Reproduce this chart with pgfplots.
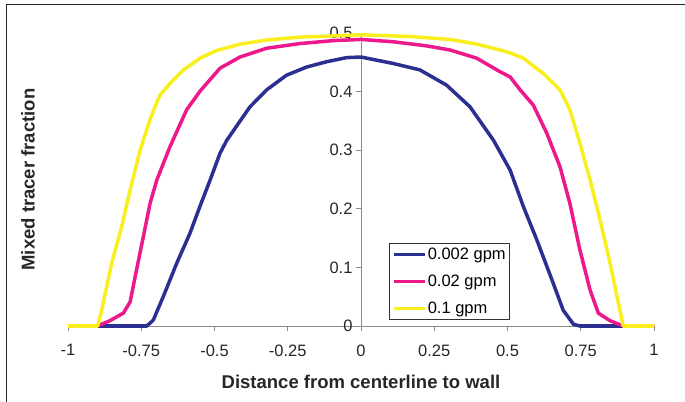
\documentclass[border=0pt]{standalone}
\usepackage{fontspec}
\setmainfont{Liberation Sans}
\usepackage{pgfplots}
\pgfplotsset{compat=1.18}
\definecolor{cblue}{RGB}{43,47,145}
\definecolor{cpink}{RGB}{236,24,140}
\definecolor{cyell}{RGB}{250,238,30}
\begin{document}
\begin{tikzpicture}
\path[use as bounding box] (0,0) rectangle (685bp,402bp);
\draw[line width=1bp, black!85] (6bp,0) -- (6bp,397bp) -- (686bp,397bp);
\begin{axis}[
  at={(68bp,76bp)}, anchor=south west,
  scale only axis, width=586bp, height=293bp,
  xmin=-1, xmax=1, ymin=0, ymax=0.5,
  enlargelimits=false, clip=false,
  axis lines=middle,
  axis line style={-, gray!90, line width=0.9bp},
  hide obscured x ticks=false, hide obscured y ticks=false,
  xtick={-1,-0.75,-0.5,-0.25,0,0.25,0.5,0.75,1},
  ytick={0,0.1,0.2,0.3,0.4,0.5},
  tick align=outside,
  major tick length=5bp,
  tick style={gray!90, line width=0.9bp},
  /pgf/number format/assume math mode=true,
  tick label style={font=\fontsize{16.5bp}{19bp}\selectfont, text=black!85},
  xticklabel style={yshift=-10bp},
  xlabel={Distance from centerline to wall},
  ylabel={Mixed tracer fraction},
  label style={font=\bfseries\fontsize{18.5bp}{22bp}\selectfont, text=black!85},
  xlabel style={at={(axis description cs:0.5,-0.1894)}, anchor=center},
  ylabel style={at={(axis description cs:-0.0683,0.5)}, anchor=center, rotate=90},
  legend style={at={(axis cs:0.0966,0.141)}, anchor=north west,
    draw=black!80, line width=0.9bp, inner xsep=2bp, inner ysep=2.5bp,
    row sep=10.5bp,
    font=\fontsize{16.5bp}{19bp}\selectfont,
    nodes={inner sep=1.5bp, text depth=0.2em}},
  legend cell align=left,
  legend image code/.code={\draw[#1, line width=3.5bp] (0bp,0bp) -- (31bp,0bp);},
]
\addplot[cblue, line width=3.5bp, line join=round] coordinates {
(-1,0) (-0.9,0) (-0.8,0) (-0.731,0) (-0.709,0.010) (-0.675,0.05) (-0.629,0.107)
(-0.584,0.158) (-0.549,0.205) (-0.515,0.249) (-0.481,0.295) (-0.458,0.317)
(-0.379,0.374) (-0.322,0.403) (-0.254,0.428) (-0.185,0.442) (-0.117,0.451)
(-0.049,0.458) (0,0.459) (0.110,0.448) (0.201,0.437) (0.292,0.411) (0.372,0.374)
(0.452,0.317) (0.509,0.266) (0.554,0.204) (0.600,0.147) (0.656,0.073)
(0.690,0.027) (0.725,0.003) (0.747,0) (0.8,0) (0.9,0) (1,0)
};
\addlegendentry{0.002 gpm}
\addplot[cpink, line width=3.5bp, line join=round] coordinates {
(-1,0) (-0.90,0) (-0.857,0.009) (-0.811,0.022) (-0.788,0.041) (-0.766,0.096)
(-0.743,0.152) (-0.72,0.209) (-0.697,0.249) (-0.652,0.306) (-0.595,0.369)
(-0.549,0.401) (-0.481,0.440) (-0.413,0.459) (-0.322,0.474) (-0.208,0.482)
(-0.094,0.487) (0,0.489) (0.11,0.485) (0.224,0.478) (0.304,0.471) (0.395,0.457)
(0.474,0.434) (0.509,0.425) (0.543,0.403) (0.588,0.377) (0.634,0.329)
(0.679,0.272) (0.713,0.209) (0.747,0.130) (0.782,0.061) (0.81,0.022)
(0.85,0.009) (0.895,0) (1,0)
};
\addlegendentry{0.02 gpm}
\addplot[cyell, line width=3.5bp, line join=round] coordinates {
(-1,0) (-0.899,0) (-0.885,0.027) (-0.851,0.107) (-0.817,0.169) (-0.788,0.232)
(-0.754,0.300) (-0.72,0.352) (-0.700,0.378) (-0.686,0.394) (-0.652,0.414) (-0.606,0.437)
(-0.549,0.457) (-0.493,0.470) (-0.413,0.481) (-0.322,0.488) (-0.208,0.493)
(-0.094,0.495) (0,0.497) (0.167,0.494) (0.304,0.489) (0.395,0.481) (0.474,0.471)
(0.509,0.466) (0.554,0.457) (0.622,0.431) (0.679,0.403) (0.713,0.369)
(0.747,0.312) (0.782,0.249) (0.816,0.181) (0.850,0.107) (0.895,0) (1,0)
};
\addlegendentry{0.1 gpm}
\end{axis}
\end{tikzpicture}
\end{document}
